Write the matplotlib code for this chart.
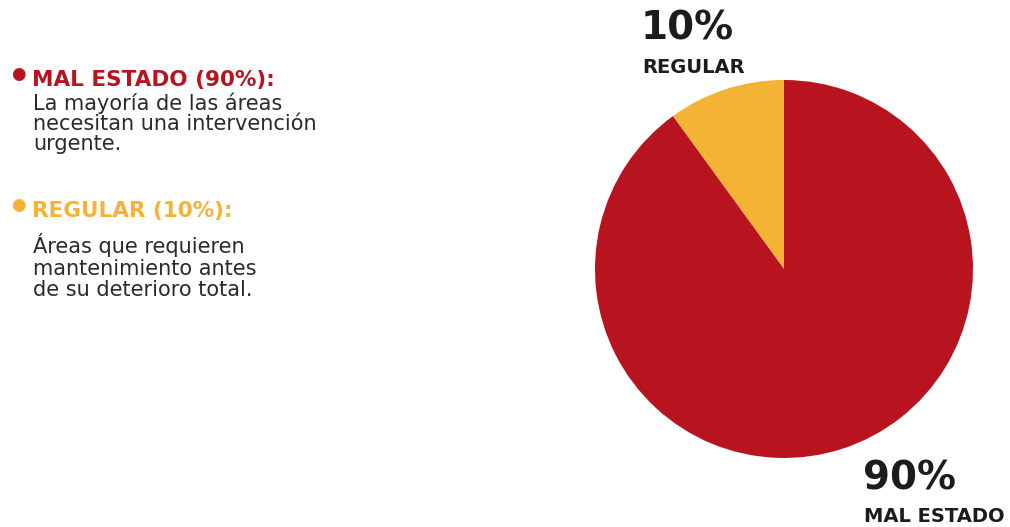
import matplotlib
matplotlib.use("Agg")
import matplotlib.pyplot as plt

categorias = ["REGULAR", "MAL ESTADO"]
valores = [10, 90]
colores = ["#F5B335", "#B8141F"]
titulos = ["MAL ESTADO (90%):", "REGULAR (10%):"]
descripciones = ["La mayoría de las áreas\nnecesitan una intervención\nurgente.",
                 "Áreas que requieren\nmantenimiento antes\nde su deterioro total."]

W, H = 1010, 527
fig = plt.figure(figsize=(W / 100, H / 100), dpi=100)
fig.patch.set_facecolor("white")

def px(x, y):
    return x / W, 1 - y / H

# pie
ax = fig.add_axes([595 / W, (H - 460) / H, 378 / W, 382 / H])
ax.pie(valores, colors=colores, startangle=90, counterclock=True,
       wedgeprops=dict(linewidth=0))
ax.set_xlim(-1, 1)
ax.set_ylim(-1, 1)
ax.set_aspect("equal")
ax.axis("off")

fuente = "DejaVu Sans"
oscuro = "#1c1c1c"

# etiquetas del pie
fig.text(*px(641, 29), "%d%%" % valores[0], fontsize=28, fontweight="bold",
         family=fuente, color=oscuro, ha="left", va="center")
fig.text(*px(642, 67), categorias[0], fontsize=14, fontweight="bold",
         family=fuente, color=oscuro, ha="left", va="center")
fig.text(*px(863, 479), "%d%%" % valores[1], fontsize=28, fontweight="bold",
         family=fuente, color=oscuro, ha="left", va="center")
fig.text(*px(864, 516), categorias[1], fontsize=14, fontweight="bold",
         family=fuente, color=oscuro, ha="left", va="center")

# leyenda con descripciones
color_leyenda = [colores[1], colores[0]]
y_titulos = [80, 211]
y_bolitas = [74, 205]
y_textos = [92, 233]
interlineado = [1.0, 1.1]
for i in range(2):
    fig.text(*px(18, y_bolitas[i]), "\u25CF", fontsize=12, color=color_leyenda[i],
             ha="center", va="center", family="DejaVu Sans")
    fig.text(*px(32, y_titulos[i]), titulos[i], fontsize=15.5, fontweight="bold",
             family=fuente, color=color_leyenda[i], ha="left", va="center")
    fig.text(*px(33, y_textos[i]), descripciones[i], fontsize=15,
             family=fuente, color="#2a2a2a", ha="left", va="top",
             linespacing=interlineado[i])

fig.savefig("out.png", dpi=100, facecolor="white")
